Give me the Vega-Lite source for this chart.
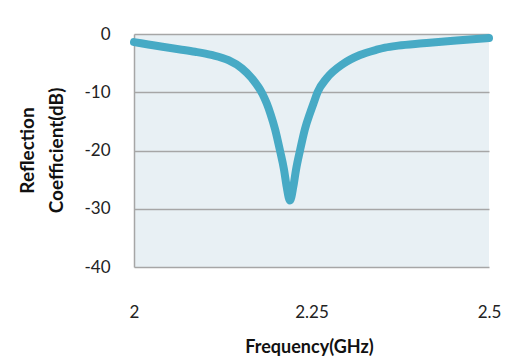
{
  "$schema": "https://vega.github.io/schema/vega-lite/v6.json",
  "autosize": "none",
  "width": 355,
  "height": 233,
  "padding": {"left": 134, "top": 34, "right": 36, "bottom": 97},
  "background": "#ffffff",
  "config": {
    "view": {"fill": "#e8f0f4", "stroke": null},
    "font": "Lato"
  },
  "data": {
    "values": [
      {"f": 2.000, "s11": -1.4},
      {"f": 2.020, "s11": -1.8},
      {"f": 2.040, "s11": -2.2},
      {"f": 2.065, "s11": -2.65},
      {"f": 2.086, "s11": -3.05},
      {"f": 2.109, "s11": -3.6},
      {"f": 2.133, "s11": -4.5},
      {"f": 2.152, "s11": -5.9},
      {"f": 2.166, "s11": -7.6},
      {"f": 2.181, "s11": -10.3},
      {"f": 2.1869, "s11": -11.9},
      {"f": 2.1925, "s11": -13.8},
      {"f": 2.1986, "s11": -16.3},
      {"f": 2.2056, "s11": -20.0},
      {"f": 2.2113, "s11": -23.3},
      {"f": 2.215, "s11": -26.2},
      {"f": 2.2197, "s11": -28.6},
      {"f": 2.2244, "s11": -26.2},
      {"f": 2.2282, "s11": -23.3},
      {"f": 2.2338, "s11": -20.0},
      {"f": 2.2408, "s11": -16.3},
      {"f": 2.2479, "s11": -13.6},
      {"f": 2.2526, "s11": -12.0},
      {"f": 2.2585, "s11": -10.0},
      {"f": 2.2714, "s11": -7.6},
      {"f": 2.2948, "s11": -5.1},
      {"f": 2.3183, "s11": -3.6},
      {"f": 2.3418, "s11": -2.7},
      {"f": 2.3535, "s11": -2.35},
      {"f": 2.372, "s11": -2.0},
      {"f": 2.407, "s11": -1.6},
      {"f": 2.454, "s11": -1.1},
      {"f": 2.500, "s11": -0.7}
    ]
  },
  "mark": {"type": "line", "color": "#47aac5", "strokeWidth": 8, "interpolate": "monotone", "strokeCap": "round", "strokeJoin": "round"},
  "encoding": {
    "x": {
      "field": "f", "type": "quantitative",
      "scale": {"domain": [2, 2.5], "nice": false, "zero": false},
      "axis": {
        "values": [2, 2.25, 2.5],
        "format": ".2~f",
        "grid": false, "domain": false, "ticks": false,
        "labelFontSize": 17, "labelColor": "#222222", "labelPadding": 37,
        "labelFlush": false, "labelBaseline": "top",
        "title": "Frequency(GHz)", "titleFontSize": 18, "titleFontWeight": "bold", "titleColor": "#111111",
        "titleX": 175, "titleY": 85, "titleBaseline": "alphabetic", "titleAlign": "center"
      }
    },
    "y": {
      "field": "s11", "type": "quantitative",
      "scale": {"domain": [-40, 0], "nice": false},
      "axis": {
        "values": [0, -10, -20, -30, -40],
        "labelExpr": "datum.value < 0 ? '-' + (-datum.value) : '' + datum.value",
        "grid": true, "gridColor": "#a6a6a6", "gridWidth": 1.5, "gridOpacity": 1,
        "domain": true, "domainColor": "#a6a6a6", "domainWidth": 1.5,
        "ticks": false,
        "labelFontSize": 17, "labelColor": "#222222", "labelPadding": 24,
        "title": ["Reflection", "Coefficient(dB)"], "titleFontSize": 19, "titleFontWeight": "bold", "titleColor": "#111111",
        "titleAngle": -90, "titleLineHeight": 29, "titleX": -101, "titleY": 116, "titleAlign": "center", "titleBaseline": "alphabetic"
      }
    }
  }
}
